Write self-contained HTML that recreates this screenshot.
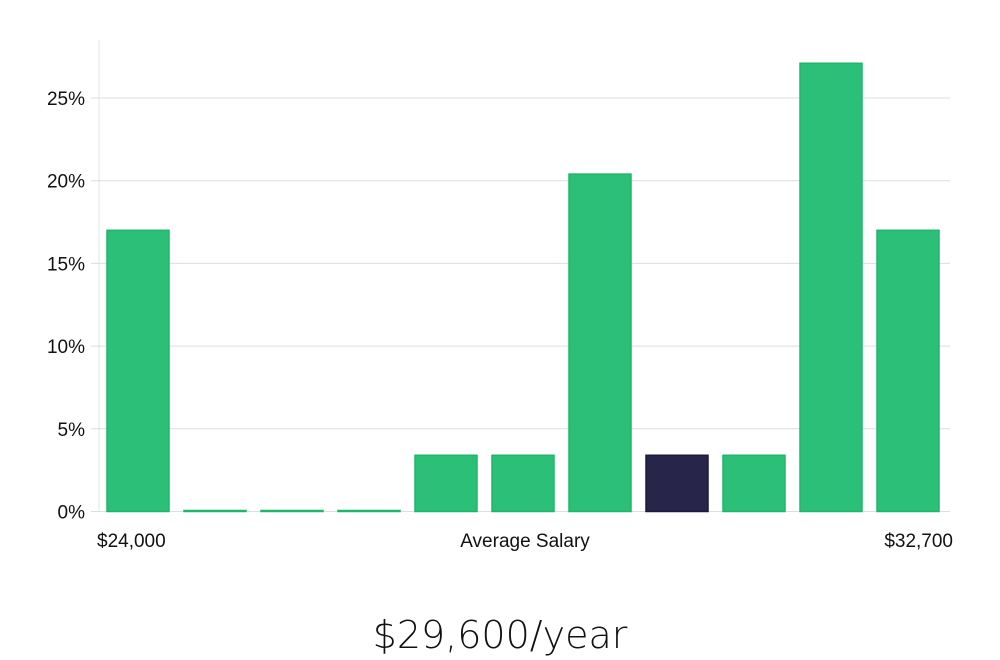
<!DOCTYPE html>
<html><head><meta charset="utf-8"><style>
html,body{margin:0;padding:0;background:#fff;width:1000px;height:660px;overflow:hidden;font-family:"Liberation Sans","DejaVu Sans",sans-serif}
</style></head><body>
<svg width="1000" height="660" xmlns="http://www.w3.org/2000/svg">
<g id="grid"></g><g id="bars"></g><g id="labels"></g>
<text x="500" y="648" text-anchor="middle" font-size="38" fill="#111" font-family="'DejaVu Sans','Liberation Sans',sans-serif" font-weight="300">$29,600/year</text>
</svg>
<script>
const categories=["b1","b2","b3","b4","b5","b6","b7","b8","b9","b10","b11"];
const values=[17,0,0,0,3.4,3.4,20.4,3.4,3.4,27.1,17];
const highlight=[0,0,0,0,0,0,0,1,0,0,0];
const yTicks=[0,5,10,15,20,25];
const xLabels=["$24,000","Average Salary","$32,700"];
const NS="http://www.w3.org/2000/svg";
const x0=99,x1=950,yBase=511.5,pxPerPct=16.54;
const y=v=>yBase-v*pxPerPct;
const step=(x1-x0-4)/categories.length;
const xb=i=>x0+4+i*step+4;
const bw=step-15;
function mk(tag,attrs,parent){const e=document.createElementNS(NS,tag);for(const k in attrs)e.setAttribute(k,attrs[k]);document.getElementById(parent).appendChild(e);return e;}
const ax=mk('line',{x1:x0,x2:x0,y1:40,y2:yBase,stroke:'#e3e3e3'},'grid');


yTicks.forEach(t=>{
 const l=mk('line',{x1:x0-8,x2:x1,y1:y(t),y2:y(t),stroke:'#dedede'},'grid');
 
 
 const tx=mk('text',{x:85,y:y(t)+7,'text-anchor':'end','font-size':19,fill:'#111'},'labels');
 tx.textContent=t+'%';
 
 
});
values.forEach((v,i)=>{
 const h=Math.max(v*pxPerPct,1);
 const r=mk('rect',{x:xb(i),y:yBase-h,width:bw,height:h,fill:highlight[i]?'#28254a':'#2bbf77',stroke:highlight[i]?'#1d1a3a':'#1fb66c','stroke-width':1.5},'bars');
 
 
});
const lx=[[97,'start'],[525,'middle'],[953,'end']];
xLabels.forEach((s,i)=>{
 const t=mk('text',{x:lx[i][0],y:547,'text-anchor':lx[i][1],'font-size':19,fill:'#111'},'labels');
 t.textContent=s;
 
 
});
</script>
</body></html>
